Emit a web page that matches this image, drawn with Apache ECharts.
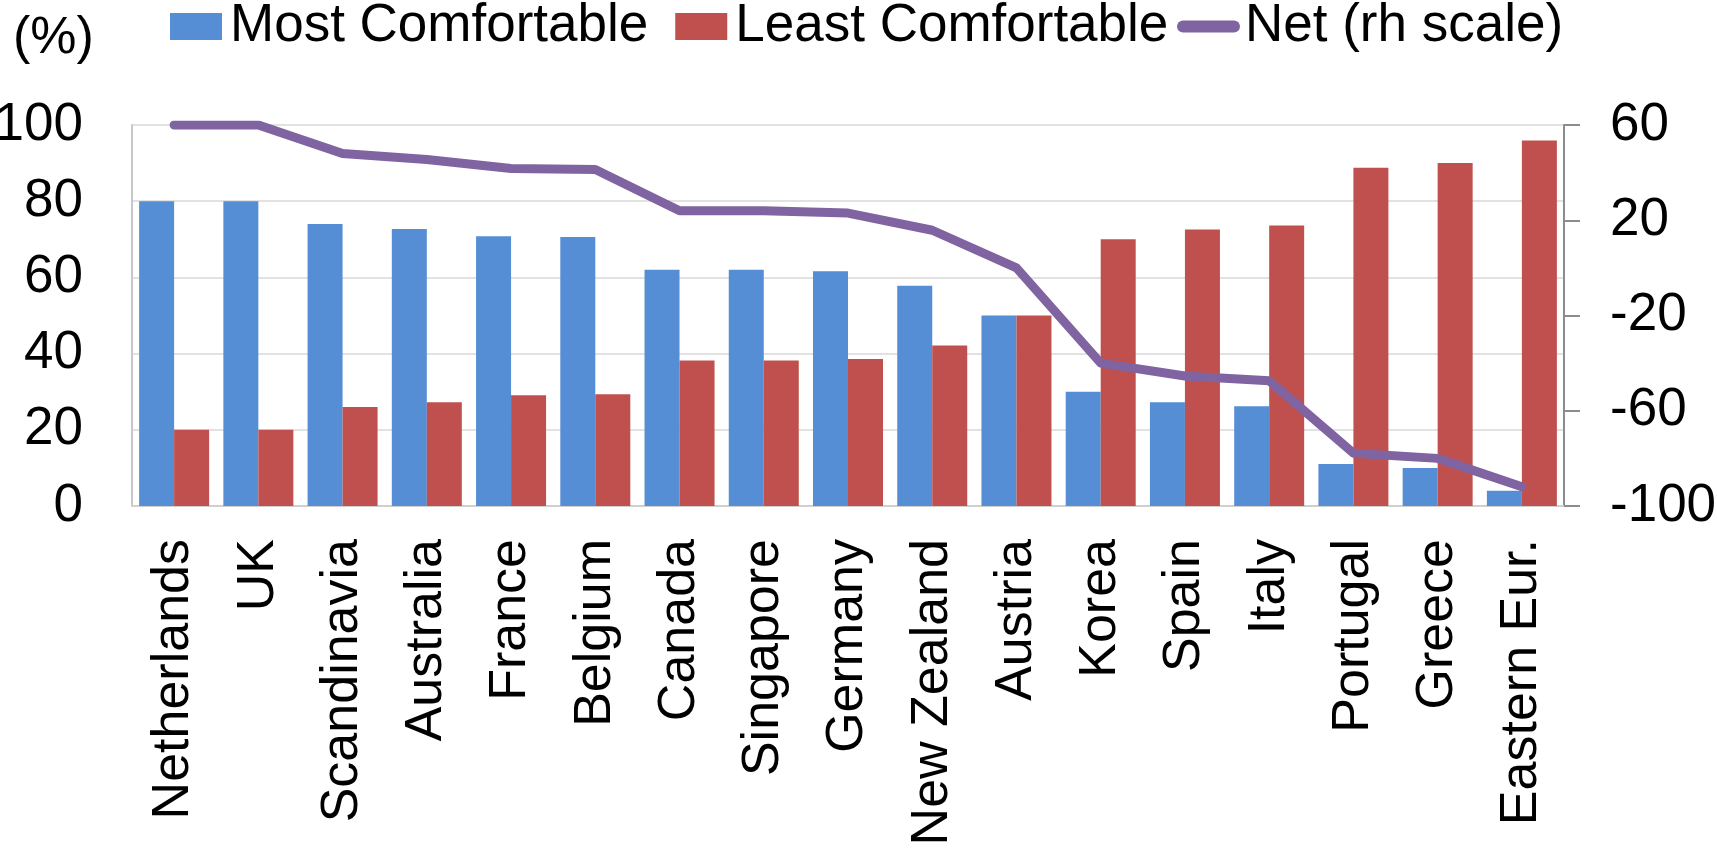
<!DOCTYPE html>
<html>
<head>
<meta charset="utf-8">
<script src="https://cdn.jsdelivr.net/npm/echarts@6/dist/echarts.min.js"></script>
<style>
html,body{margin:0;padding:0;background:#fff;}
#chart{width:1717px;height:850px;}
</style>
</head>
<body>
<div id="chart"></div>
<script>
const categories = ['Netherlands','UK','Scandinavia','Australia','France','Belgium','Canada','Singapore','Germany','New Zealand','Austria','Korea','Spain','Italy','Portugal','Greece','Eastern Eur.'];
const mostComfortable = [80,80,74,72.7,70.8,70.6,62,62,61.6,57.8,50,30,27.2,26.2,11,10,4];
const leastComfortable = [20,20,26,27.2,29.1,29.3,38.2,38.2,38.6,42.1,50,70,72.6,73.6,88.8,90,95.9];
const netRh = [60,60,48,45.5,41.7,41.3,24,24,23,15.8,0,-40,-45.4,-47.4,-77.8,-80,-91.9];
const leftTicks = [0,20,40,60,80,100];
const rightTicks = [60,20,-20,-60,-100];

const FONT = "'Liberation Sans', Arial, sans-serif";
const chart = echarts.init(document.getElementById('chart'), null, {renderer:'canvas'});
chart.setOption({
  animation:false,
  backgroundColor:'#ffffff',
  textStyle:{fontFamily:FONT},
  title:{
    text:'(%)', left:8, top:8,
    textStyle:{fontFamily:FONT, fontSize:52, fontWeight:'normal', color:'#000'}
  },
  legend:[{
    data:['Most Comfortable','Least Comfortable'],
    left:170, top:0, padding:0,
    itemWidth:52, itemHeight:27, itemGap:27, icon:'rect',
    textStyle:{fontFamily:FONT, fontSize:53, color:'#000', padding:[0,0,0,3]}
  },{
    data:[{name:'Net (rh scale)', icon:'path://M6,0 H57 A6,6 0 0 1 57,12 H6 A6,6 0 0 1 6,0 Z'}],
    left:1177, top:0, padding:0,
    itemWidth:63, itemHeight:12,
    textStyle:{fontFamily:FONT, fontSize:53, color:'#000'}
  }],
  grid:{left:132, right:153, top:125, bottom:344, containLabel:false, outerBoundsMode:'none'},
  xAxis:{
    type:'category', data:categories,
    axisLine:{show:true, lineStyle:{color:'#d0d0d0', width:2}},
    axisTick:{show:false},
    axisLabel:{rotate:90, margin:33, fontFamily:FONT, fontSize:52, color:'#000', interval:0}
  },
  yAxis:[{
    type:'value', min:0, max:100, interval:20, position:'left',
    axisLine:{show:true, lineStyle:{color:'#c8c8c8', width:2}},
    axisTick:{show:false},
    splitLine:{show:true, lineStyle:{color:'#d9d9d9', width:1.5}},
    axisLabel:{margin:49, fontFamily:FONT, fontSize:53, color:'#000', customValues:leftTicks}
  },{
    type:'value', min:-100, max:60, position:'right',
    axisLine:{show:true, lineStyle:{color:'#8c8c8c', width:2}},
    axisTick:{show:true, inside:false, length:16, lineStyle:{color:'#8c8c8c', width:2}, customValues:rightTicks},
    splitLine:{show:false},
    axisLabel:{margin:46, fontFamily:FONT, fontSize:53, color:'#000', customValues:rightTicks}
  }],
  series:[{
    name:'Most Comfortable', type:'bar', yAxisIndex:0, data:mostComfortable,
    barWidth:35, barGap:'0%',
    itemStyle:{color:'#558ed5'}
  },{
    name:'Least Comfortable', type:'bar', yAxisIndex:0, data:leastComfortable,
    barWidth:35, barGap:'0%',
    itemStyle:{color:'#c0504d'}
  },{
    name:'Net (rh scale)', type:'line', yAxisIndex:1, data:netRh,
    symbol:'none', showSymbol:false, z:5,
    lineStyle:{color:'#8064a2', width:9, cap:'round', join:'round'},
    itemStyle:{color:'#8064a2'}
  }]
});
</script>
</body>
</html>
